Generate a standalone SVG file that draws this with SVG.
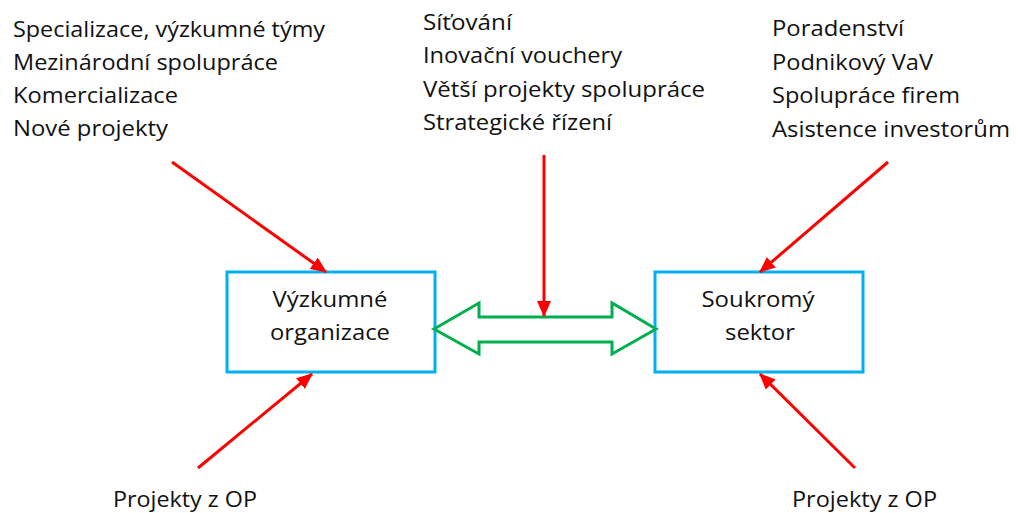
<svg xmlns="http://www.w3.org/2000/svg" width="1018" height="513" viewBox="0 0 1018 513">
<style>
text{font-family:"Open Sans","Liberation Sans",sans-serif;font-size:21px;fill:#111}
.box{fill:#fff;stroke:#00B0F0;stroke-width:3}
.red{stroke:#FF0000;stroke-width:3;fill:none;marker-end:url(#ah)}
.mid{text-anchor:middle}
</style>
<defs>
<marker id="ah" markerUnits="userSpaceOnUse" markerWidth="16" markerHeight="14" viewBox="0 0 16 14" refX="15" refY="7" orient="auto">
<path d="M0,0 L16,7 L0,14 Z" fill="#FF0000"/>
</marker>
</defs>
<rect width="1018" height="513" fill="#fff"/>
<g id="labels-left">
<text x="13" y="37" textLength="312" lengthAdjust="spacingAndGlyphs">Specializace, výzkumné týmy</text>
<text x="13" y="70" textLength="265" lengthAdjust="spacingAndGlyphs">Mezinárodní spolupráce</text>
<text x="13" y="103" textLength="165" lengthAdjust="spacingAndGlyphs">Komercializace</text>
<text x="13" y="136" textLength="155" lengthAdjust="spacingAndGlyphs">Nové projekty</text>
</g>
<g id="labels-center">
<text x="423" y="30" textLength="89" lengthAdjust="spacingAndGlyphs">Síťování</text>
<text x="423" y="63" textLength="199" lengthAdjust="spacingAndGlyphs">Inovační vouchery</text>
<text x="423" y="97" textLength="282" lengthAdjust="spacingAndGlyphs">Větší projekty spolupráce</text>
<text x="423" y="130" textLength="189" lengthAdjust="spacingAndGlyphs">Strategické řízení</text>
</g>
<g id="labels-right">
<text x="772" y="36" textLength="132" lengthAdjust="spacingAndGlyphs">Poradenství</text>
<text x="772" y="70" textLength="161" lengthAdjust="spacingAndGlyphs">Podnikový VaV</text>
<text x="772" y="103" textLength="188" lengthAdjust="spacingAndGlyphs">Spolupráce firem</text>
<text x="772" y="137" textLength="238" lengthAdjust="spacingAndGlyphs">Asistence investorům</text>
</g>
<g id="node-vyzkumne">
<rect class="box" x="227" y="272" width="208" height="100"/>
<text class="mid" x="330" y="307" textLength="115" lengthAdjust="spacingAndGlyphs">Výzkumné</text>
<text class="mid" x="330" y="340" textLength="120" lengthAdjust="spacingAndGlyphs">organizace</text>
</g>
<g id="node-soukromy">
<rect class="box" x="655" y="272" width="208" height="100"/>
<text class="mid" x="758" y="307" textLength="113" lengthAdjust="spacingAndGlyphs">Soukromý</text>
<text class="mid" x="760" y="340" textLength="70" lengthAdjust="spacingAndGlyphs">sektor</text>
</g>
<g id="labels-bottom">
<text x="113" y="507" textLength="144" lengthAdjust="spacingAndGlyphs">Projekty z OP</text>
<text x="792" y="507" textLength="145" lengthAdjust="spacingAndGlyphs">Projekty z OP</text>
</g>
<g id="connectors">
<polygon points="434,329 479,303 479,317 612,317 612,303 656,329 612,354 612,342 479,342 479,354" fill="#fff" stroke="#00B050" stroke-width="3" stroke-linejoin="miter"/>
<line class="red" x1="172" y1="162" x2="326" y2="272"/>
<line class="red" x1="544" y1="155" x2="544" y2="316"/>
<line class="red" x1="888" y1="162" x2="760" y2="272"/>
<line class="red" x1="198" y1="468" x2="312" y2="374"/>
<line class="red" x1="855" y1="468" x2="760" y2="374"/>
</g>
</svg>
